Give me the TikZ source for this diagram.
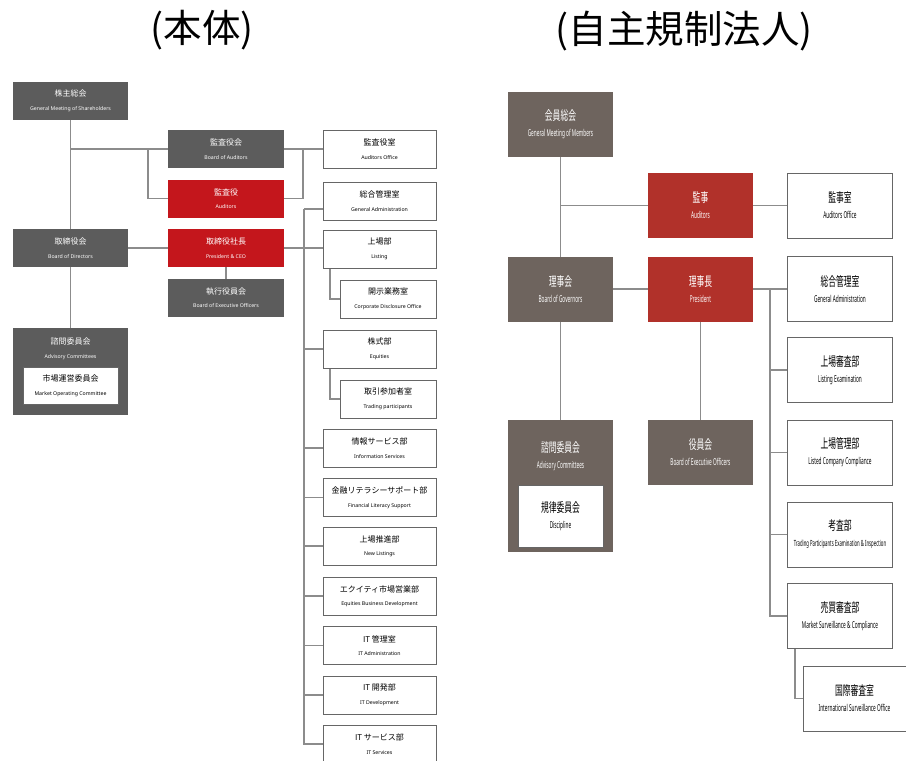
\documentclass[tikz,border=0pt]{standalone}
\usepackage{fontspec}
\setmainfont{Noto Sans}
\newfontfamily\jp{Noto Sans CJK JP}
\newfontfamily\rjp[FakeStretch=0.6]{Noto Sans CJK JP}
\newfontfamily\ren[FakeStretch=0.5]{Noto Sans}
\pgfdeclarelayer{background}
\pgfsetlayers{background,main}
\definecolor{lg}{HTML}{5C5C5C}
\definecolor{lr}{HTML}{C4161C}
\definecolor{rg}{HTML}{6E645E}
\definecolor{rr}{HTML}{B1312A}
\definecolor{ln}{HTML}{8C8C8C}
\definecolor{bd}{HTML}{666666}
\newcommand\ltx[2]{{\jp\fontsize{8}{9}\selectfont #1}\\[1.5pt]{\fontsize{5.2}{6}\selectfont #2}}
\newcommand\rtx[2]{{\rjp\fontsize{13}{14}\selectfont #1}\\[4pt]{\ren\fontsize{9.5}{10}\selectfont #2}}
\tikzset{
  lbox/.style={minimum width=115pt, minimum height=38pt, inner sep=0pt, outer sep=0pt, align=center},
  lgray/.style={lbox, fill=lg, text=white},
  lred/.style={lbox, fill=lr, text=white},
  lwhite/.style={lbox, fill=white, draw=bd, line width=0.8pt, text=black, minimum width=113pt},
  rbox/.style={minimum width=105pt, minimum height=65pt, inner sep=0pt, outer sep=0pt, align=center},
  rgray/.style={rbox, fill=rg, text=white},
  rred/.style={rbox, fill=rr, text=white},
  rwhite/.style={rbox, fill=white, draw=bd, line width=1pt, text=black},
  conn/.style={draw=ln, line width=1.3pt},
  ttl/.style={font=\jp\fontsize{38.5}{40}\selectfont, inner sep=0pt}
}
\begin{document}
\begin{tikzpicture}[x=1pt,y=-1pt]
\begin{pgfonlayer}{background}
\fill[white] (0,0) rectangle (906,761);
\end{pgfonlayer}
\useasboundingbox (0,0) rectangle (906,761);
% titles
\node[ttl] (t1) at (202,30) {(本体)};
\node[ttl] (t2) at (684,31) {(自主規制法人)};
% ---------- left chart ----------
\node[lgray] (sh) at (70.5,101) {\ltx{株主総会}{General Meeting of Shareholders}};
\node[lgray, minimum width=116pt] (boa) at (226,149) {\ltx{監査役会}{Board of Auditors}};
\node[lred, minimum width=116pt] (aud) at (226,198.5) {\ltx{監査役}{Auditors}};
\node[lgray] (bod) at (70.5,248) {\ltx{取締役会}{Board of Directors}};
\node[lred, minimum width=116pt] (pres) at (226,248) {\ltx{取締役社長}{President \& CEO}};
\node[lgray, minimum width=116pt] (exe) at (226,297.5) {\ltx{執行役員会}{Board of Executive Officers}};
\node[lgray, minimum height=87pt] (adv) at (70.5,371.5) {};
\node[text=white, align=center, inner sep=0pt] (advt) at (70.5,349) {\ltx{諮問委員会}{Advisory Committees}};
\node[lwhite, minimum width=95pt, minimum height=37pt] (moc) at (70.5,385.5) {\ltx{市場運営委員会}{Market Operating Committee}};
\node[lwhite] (ao) at (379.5,149) {\ltx{監査役室}{Auditors Office}};
\node[lwhite] (ga) at (379.5,201) {\ltx{総合管理室}{General Administration}};
\node[lwhite] (lst) at (379.5,249) {\ltx{上場部}{Listing}};
\node[lwhite, minimum width=96pt] (cdo) at (388,299) {\ltx{開示業務室}{Corporate Disclosure Office}};
\node[lwhite] (eq) at (379.5,349) {\ltx{株式部}{Equities}};
\node[lwhite, minimum width=96pt] (tp) at (388,399) {\ltx{取引参加者室}{Trading participants}};
\node[lwhite] (is) at (379.5,448) {\ltx{情報サービス部}{Information Services}};
\node[lwhite] (fl) at (379.5,497.5) {\ltx{金融リテラシーサポート部}{Financial Literacy Support}};
\node[lwhite] (nl) at (379.5,546) {\ltx{上場推進部}{New Listings}};
\node[lwhite] (ebd) at (379.5,596) {\ltx{エクイティ市場営業部}{Equities Business Development}};
\node[lwhite] (ita) at (379.5,645.5) {\ltx{IT 管理室}{IT Administration}};
\node[lwhite] (itd) at (379.5,695) {\ltx{IT 開発部}{IT Development}};
\node[lwhite] (its) at (379.5,744) {\ltx{IT サービス部}{IT Services}};
\coordinate (jA) at (148,149);
\coordinate (jB) at (303,149);
\coordinate (jC) at (304,209);
% ---------- right chart ----------
\node[rgray] (gmm) at (560.5,124.5) {\rtx{会員総会}{General Meeting of Members}};
\node[rred] (raud) at (700.5,205.5) {\rtx{監事}{Auditors}};
\node[rwhite] (rao) at (840,205.5) {\rtx{監事室}{Auditors Office}};
\node[rgray] (bog) at (560.5,289) {\rtx{理事会}{Board of Governors}};
\node[rred] (rpres) at (700.5,289) {\rtx{理事長}{President}};
\node[rwhite] (rga) at (840,289) {\rtx{総合管理室}{General Administration}};
\node[rgray, minimum height=132pt] (radv) at (560.5,486) {};
\node[text=white, align=center, inner sep=0pt] (radvt) at (560.5,456) {\rtx{諮問委員会}{Advisory Committees}};
\node[rwhite, minimum width=85pt, minimum height=62pt] (disc) at (560.5,516) {\rtx{規律委員会}{Discipline}};
\node[rgray] (rexe) at (700.5,452.5) {\rtx{役員会}{Board of Executive Officers}};
\node[rwhite] (rle) at (840,370) {\rtx{上場審査部}{Listing Examination}};
\node[rwhite] (rlcc) at (840,452.5) {\rtx{上場管理部}{Listed Company Compliance}};
\node[rwhite] (rtp) at (840,534.5) {{\rjp\fontsize{13}{14}\selectfont 考査部}\\[4pt]{\ren\fontsize{8.5}{10}\selectfont Trading Participants Examination \& Inspection}};
\node[rwhite] (rms) at (840,616) {\rtx{売買審査部}{Market Surveillance \& Compliance}};
\node[rwhite, minimum width=103pt] (riso) at (854.5,698.5) {\rtx{国際審査室}{International Surveillance Office}};
\coordinate (rj) at (770,289);
% ---------- connectors ----------
\begin{pgfonlayer}{background}
\draw[conn] (sh.south) -- (adv.north);
\draw[conn] (sh.south |- boa.west) -- (boa.west);
\draw[conn] (jA) |- (aud.west);
\draw[conn] (bod.east) -- (pres.west);
\draw[conn] (pres.south) -- (exe.north);
\draw[conn] (boa.east) -- (ao.west);
\draw[conn] (aud.east) -| (jB);
\draw[conn] (pres.east) -- (pres.east -| lst.west);
\draw[conn] (jC) -- (jC -| ga.west);
\draw[conn] (jC) |- (its.west);
\foreach \n in {eq,is,fl,nl,ebd,ita,itd} {\draw[conn] (\n.west -| jC) -- (\n.west);}
\draw[conn] ([xshift=7pt]lst.south west) |- (cdo.west);
\draw[conn] ([xshift=7pt]eq.south west) |- (tp.west);
\draw[conn] (gmm.south) -- (radv.north);
\draw[conn] (gmm.south |- raud.west) -- (raud.west);
\draw[conn] (raud.east) -- (rao.west);
\draw[conn] (bog.east) -- (rpres.west);
\draw[conn] (rpres.east) -- (rga.west);
\draw[conn] (rpres.south) -- (rexe.north);
\draw[conn] (rj) |- (rms.west);
\foreach \n in {rle,rlcc,rtp} {\draw[conn] (\n.west -| rj) -- (\n.west);}
\draw[conn] ([xshift=7.5pt]rms.south west) |- (riso.west);
\end{pgfonlayer}
\end{tikzpicture}
\end{document}
